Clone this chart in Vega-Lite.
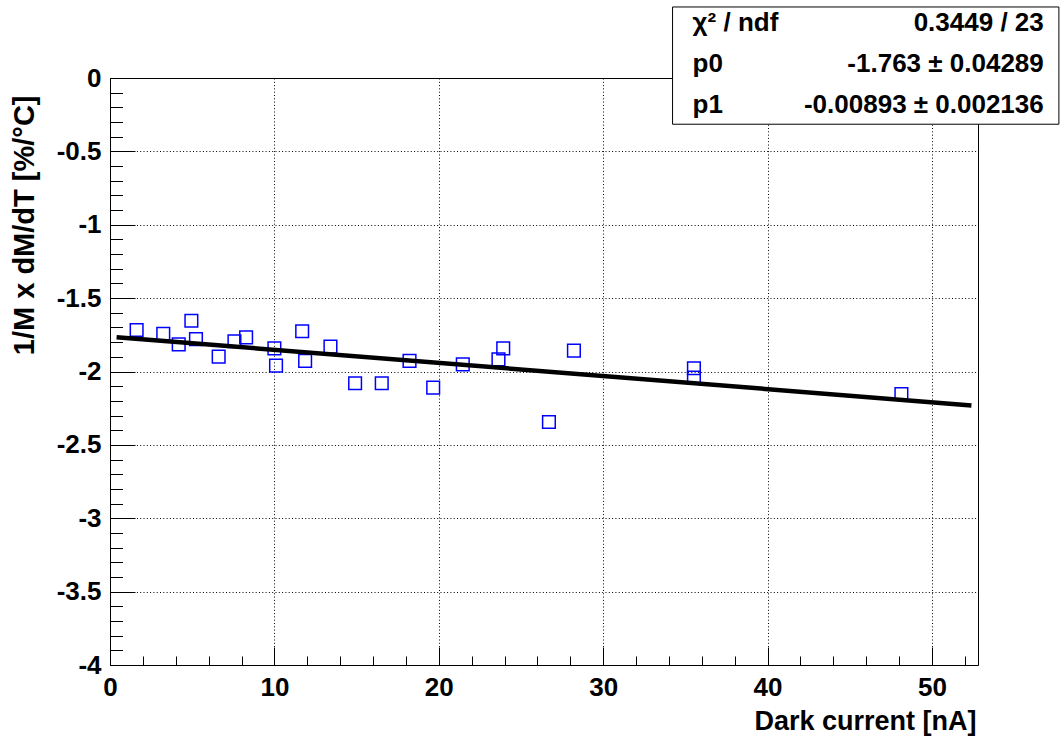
{
  "$schema": "https://vega.github.io/schema/vega-lite/v6.json",
  "width": 868,
  "height": 587,
  "autosize": {"type": "none"},
  "padding": {"left": 110, "top": 78, "right": 84, "bottom": 75},
  "background": "white",
  "config": {
    "view": {"stroke": "black", "strokeWidth": 1},
    "font": "Liberation Sans",
    "axis": {
      "labelFont": "Liberation Sans",
      "labelFontWeight": "bold",
      "labelFontSize": 26,
      "labelColor": "black",
      "titleFont": "Liberation Sans",
      "titleFontWeight": "bold",
      "titleFontSize": 26,
      "titleColor": "black",
      "tickColor": "black",
      "tickWidth": 1,
      "domain": false
    }
  },
  "datasets": {
    "points": [
      {"current": 1.62, "slope": -1.717},
      {"current": 3.24, "slope": -1.744},
      {"current": 4.18, "slope": -1.815},
      {"current": 4.95, "slope": -1.654},
      {"current": 5.23, "slope": -1.779},
      {"current": 6.61, "slope": -1.899},
      {"current": 7.57, "slope": -1.794},
      {"current": 8.28, "slope": -1.767},
      {"current": 10.0, "slope": -1.842},
      {"current": 10.1, "slope": -1.96},
      {"current": 11.69, "slope": -1.726},
      {"current": 11.87, "slope": -1.928},
      {"current": 13.41, "slope": -1.831},
      {"current": 14.91, "slope": -2.08},
      {"current": 16.53, "slope": -2.08},
      {"current": 18.22, "slope": -1.928},
      {"current": 19.66, "slope": -2.11},
      {"current": 21.46, "slope": -1.951},
      {"current": 23.63, "slope": -1.917},
      {"current": 23.92, "slope": -1.842},
      {"current": 26.7, "slope": -2.344},
      {"current": 28.22, "slope": -1.858},
      {"current": 35.52, "slope": -1.978},
      {"current": 35.52, "slope": -2.042},
      {"current": 48.14, "slope": -2.153}
    ],
    "fit": [
      {"current": 0.4, "slope": -1.7666},
      {"current": 52.4, "slope": -2.2309}
    ],
    "stats": [
      {"names": ["χ² / ndf", "p0", "p1"], "vals": ["0.3449 / 23", "-1.763 ± 0.04289", "-0.00893 ± 0.002136"]}
    ]
  },
  "layer": [
    {
      "data": {"name": "points"},
      "mark": {"type": "point", "shape": "square", "filled": false, "size": 160, "color": "#0000ff", "strokeWidth": 1.5, "opacity": 1},
      "encoding": {
        "x": {
          "field": "current", "type": "quantitative",
          "scale": {"domain": [0, 52.8], "nice": false, "zero": false},
          "axis": {
            "orient": "bottom", "values": [0, 10, 20, 30, 40, 50], "ticks": false,
            "labelPadding": 9, "labelExpr": "datum.value + ''", "labelFlush": false,
            "grid": true, "gridColor": "black", "gridDash": [1, 2.3], "gridWidth": 1, "gridOpacity": 1,
            "title": "Dark current [nA]", "titleAnchor": "end", "titleAlign": "right",
            "titleFontSize": 27,
            "titleX": 866, "titleY": 64, "titleBaseline": "alphabetic"
          }
        },
        "y": {
          "field": "slope", "type": "quantitative",
          "scale": {"domain": [-4, 0], "nice": false, "zero": false},
          "axis": {
            "orient": "left", "values": [-4, -3.5, -3, -2.5, -2, -1.5, -1, -0.5, 0], "ticks": false,
            "labelPadding": 9, "labelExpr": "datum.value + ''", "labelFlush": false,
            "grid": true, "gridColor": "black", "gridDash": [1, 2.3], "gridWidth": 1, "gridOpacity": 1,
            "title": "1/M x dM/dT [%/°C]", "titleAnchor": "end", "titleAlign": "right",
            "titleFontSize": 29,
            "titleAngle": -90, "titleX": -86, "titleY": 17, "titleBaseline": "middle"
          }
        }
      }
    },
    {
      "data": {"name": "fit"},
      "mark": {"type": "line", "color": "black", "strokeWidth": 4.5},
      "encoding": {
        "x": {
          "field": "current", "type": "quantitative",
          "axis": {"orient": "bottom", "values": [0,2,4,6,8,10,12,14,16,18,20,22,24,26,28,30,32,34,36,38,40,42,44,46,48,50,52], "tickSize": -9, "labels": false, "grid": false, "title": null}
        },
        "y": {
          "field": "slope", "type": "quantitative",
          "axis": {"orient": "left", "values": [-4,-3.9,-3.8,-3.7,-3.6,-3.5,-3.4,-3.3,-3.2,-3.1,-3,-2.9,-2.8,-2.7,-2.6,-2.5,-2.4,-2.3,-2.2,-2.1,-2,-1.9,-1.8,-1.7,-1.6,-1.5,-1.4,-1.3,-1.2,-1.1,-1,-0.9,-0.8,-0.7,-0.6,-0.5,-0.4,-0.3,-0.2,-0.1,0], "tickSize": -12.5, "labels": false, "grid": false, "title": null}
        }
      }
    },
    {
      "data": {"name": "fit"},
      "mark": {"type": "line", "opacity": 0},
      "encoding": {
        "x": {
          "field": "current", "type": "quantitative",
          "axis": {"orient": "bottom", "values": [0, 10, 20, 30, 40, 50], "tickSize": -18, "labels": false, "grid": false, "title": null}
        },
        "y": {
          "field": "slope", "type": "quantitative",
          "axis": {"orient": "left", "values": [-4, -3.5, -3, -2.5, -2, -1.5, -1, -0.5, 0], "tickSize": -25, "labels": false, "grid": false, "title": null}
        }
      }
    },
    {
      "data": {"name": "stats"},
      "mark": {"type": "rect", "fill": "white", "stroke": "black", "strokeWidth": 1},
      "encoding": {
        "x": {"datum": 34.22, "type": "quantitative", "axis": null},
        "x2": {"datum": 57.72},
        "y": {"datum": 0.484, "type": "quantitative", "axis": null},
        "y2": {"datum": -0.315}
      }
    },
    {
      "data": {"name": "stats"},
      "mark": {"type": "text", "align": "left", "baseline": "middle", "font": "Liberation Sans", "fontWeight": "bold", "fontSize": 26, "lineHeight": 41, "color": "black"},
      "encoding": {
        "x": {"datum": 35.44, "type": "quantitative", "axis": null},
        "y": {"datum": 0.375, "type": "quantitative", "axis": null},
        "text": {"field": "names", "type": "nominal"}
      }
    },
    {
      "data": {"name": "stats"},
      "mark": {"type": "text", "align": "right", "baseline": "middle", "font": "Liberation Sans", "fontWeight": "bold", "fontSize": 26, "lineHeight": 41, "color": "black"},
      "encoding": {
        "x": {"datum": 56.8, "type": "quantitative", "axis": null},
        "y": {"datum": 0.375, "type": "quantitative", "axis": null},
        "text": {"field": "vals", "type": "nominal"}
      }
    }
  ],
  "resolve": {"axis": {"x": "independent", "y": "independent"}}
}
